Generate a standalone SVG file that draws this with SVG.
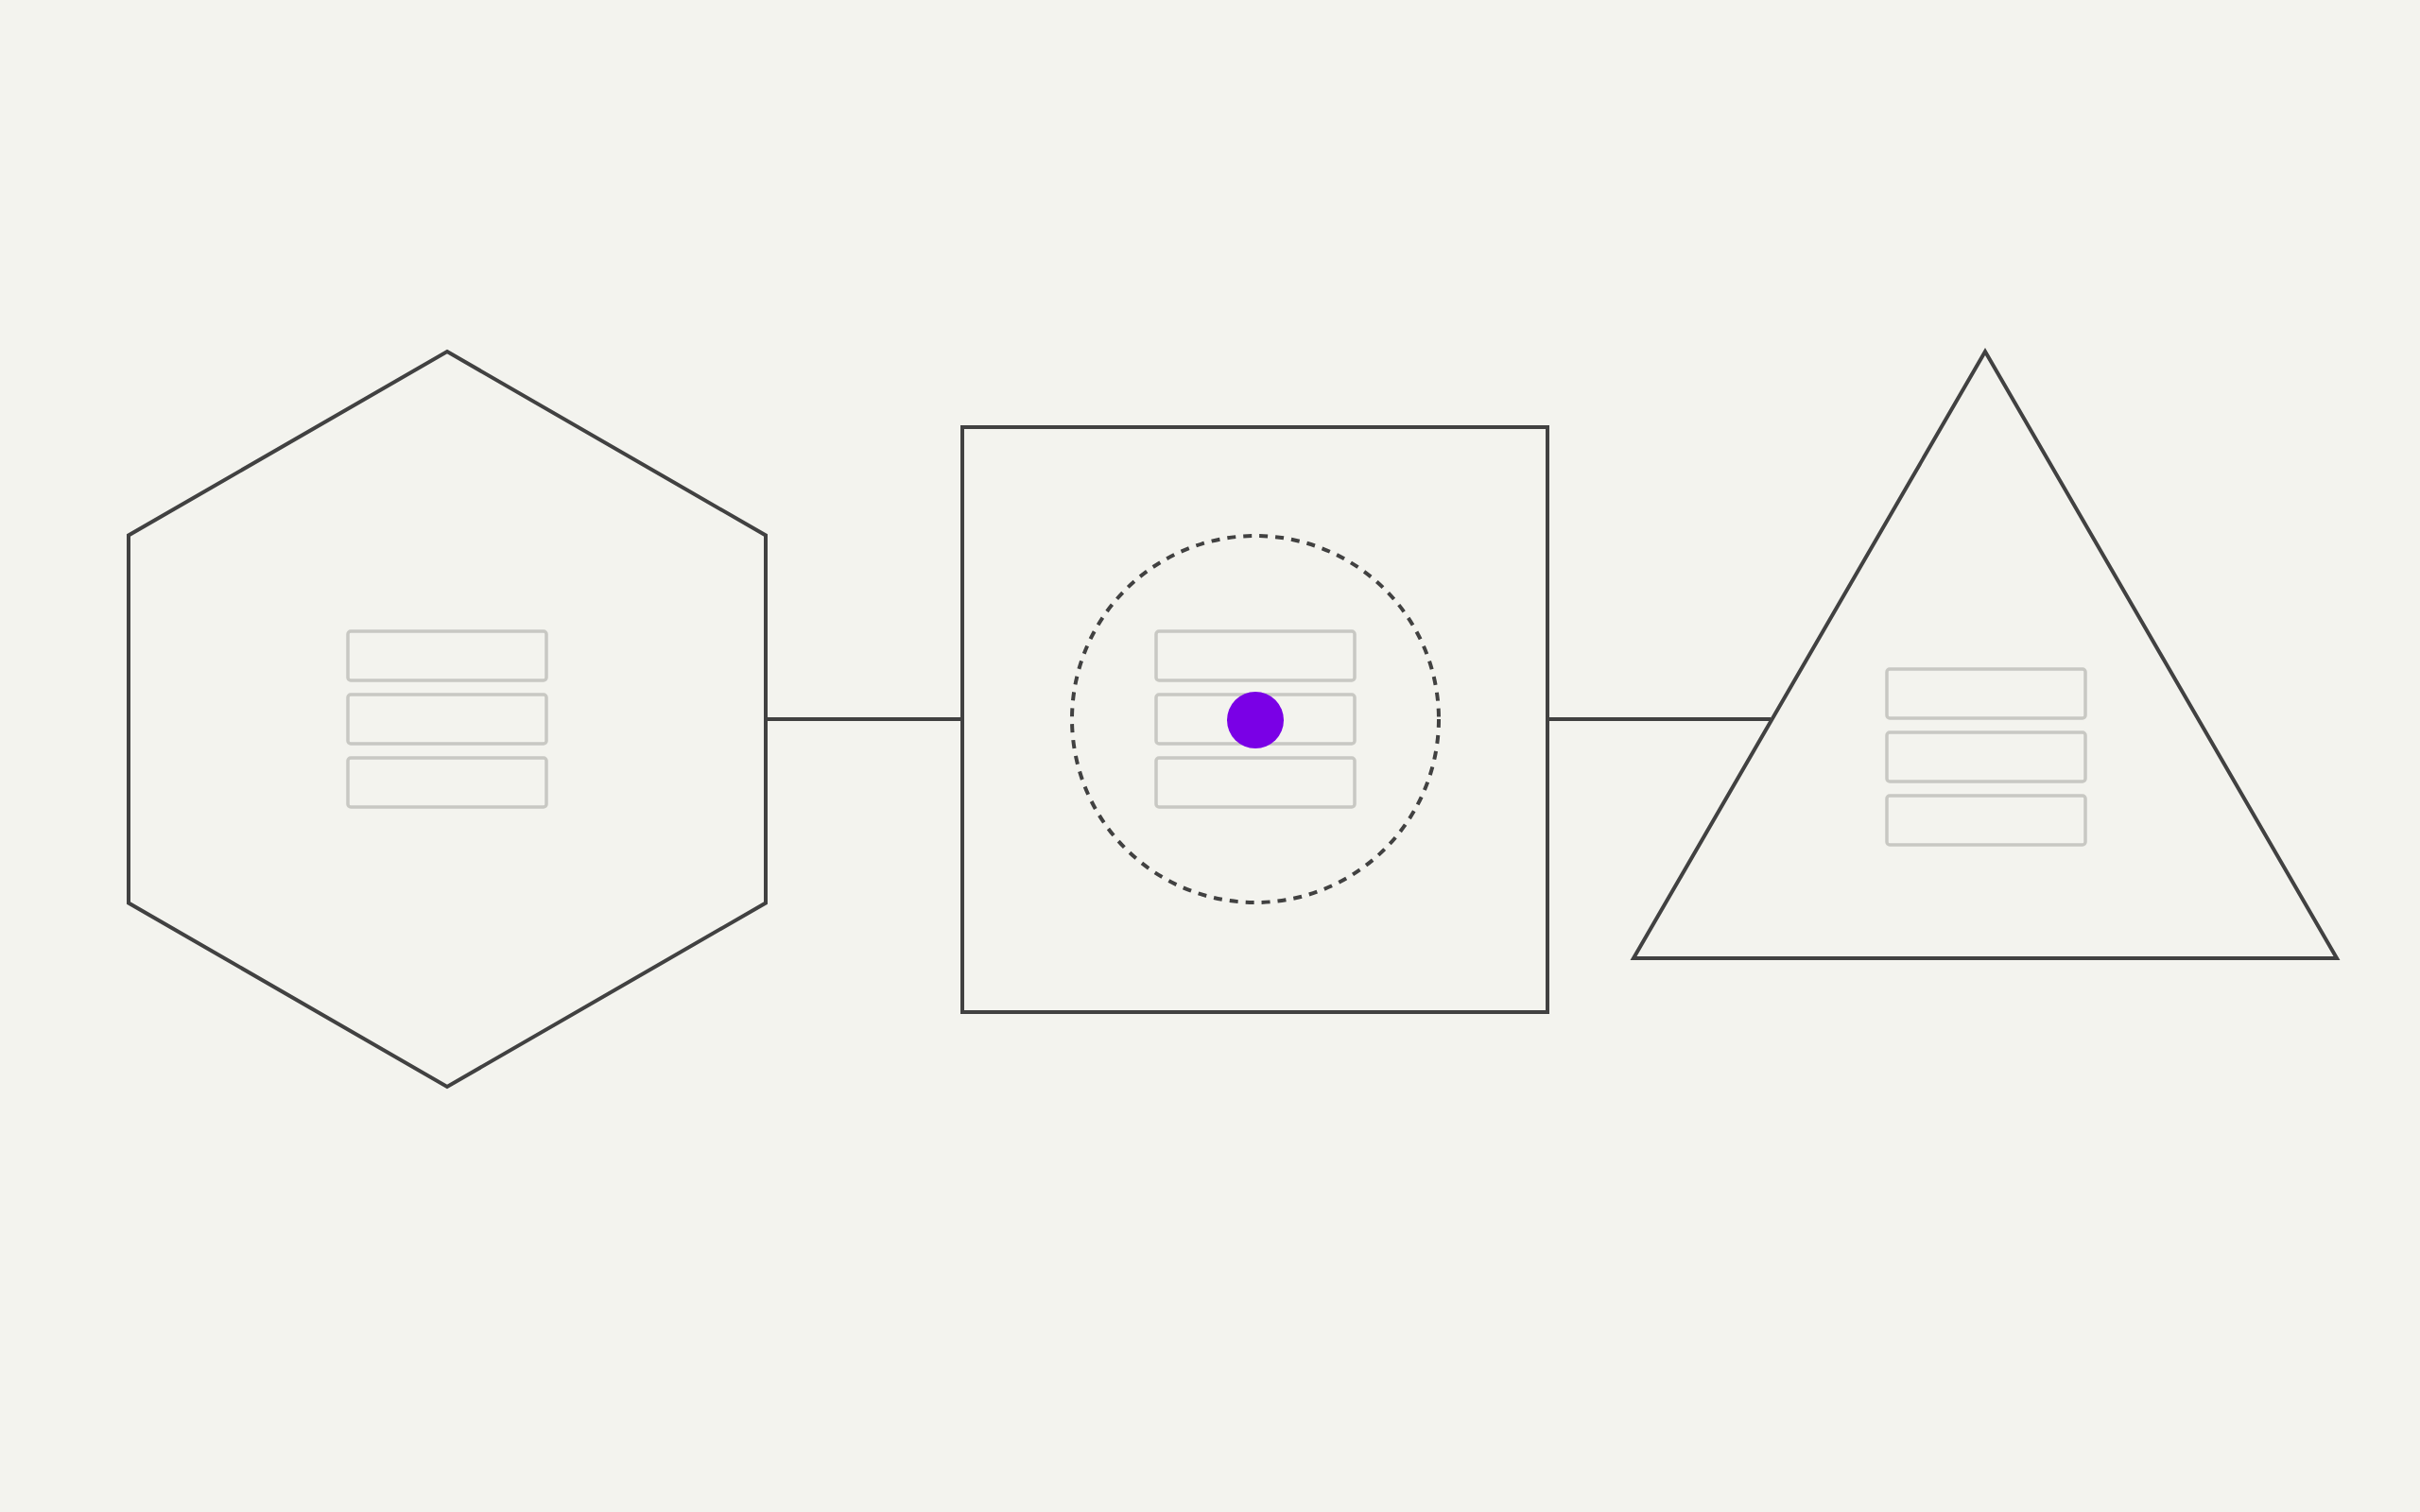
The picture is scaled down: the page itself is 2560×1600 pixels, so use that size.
<svg xmlns="http://www.w3.org/2000/svg" width="2560" height="1600" viewBox="0 0 2560 1600">
<style>
.shape{fill:none;stroke:#414141;stroke-width:4;stroke-linejoin:miter}
.slot{fill:none;stroke:#c8c8c3;stroke-width:3.5;}
.conn{stroke:#414141;stroke-width:4;fill:none}
.ring{fill:none;stroke:#414141;stroke-width:4;stroke-dasharray:9 8}
</style>
<rect width="2560" height="1600" fill="#f3f3ee"/>
<g id="connectors">
<line class="conn" x1="811" y1="761" x2="1018" y2="761"/>
<line class="conn" x1="1638" y1="761" x2="1873" y2="761"/>
</g>
<g id="hexagon">
<polygon class="shape" points="473,372 810,566.5 810,955.5 473,1150 136,955.5 136,566.5"/>
<rect class="slot" x="368" y="668" width="210" height="52" rx="3"/>
<rect class="slot" x="368" y="735" width="210" height="52" rx="3"/>
<rect class="slot" x="368" y="802" width="210" height="52" rx="3"/>
</g>
<g id="square">
<rect class="shape" x="1018" y="452" width="619" height="619"/>
<circle class="ring" cx="1328" cy="761" r="194"/>
<rect class="slot" x="1223" y="668" width="210" height="52" rx="3"/>
<rect class="slot" x="1223" y="735" width="210" height="52" rx="3"/>
<rect class="slot" x="1223" y="802" width="210" height="52" rx="3"/>
<circle cx="1328" cy="762" r="30" fill="#7a00e6"/>
</g>
<g id="triangle">
<polygon class="shape" points="2100,372 2472,1014 1728,1014"/>
<rect class="slot" x="1996" y="708" width="210" height="52" rx="3"/>
<rect class="slot" x="1996" y="775" width="210" height="52" rx="3"/>
<rect class="slot" x="1996" y="842" width="210" height="52" rx="3"/>
</g>
</svg>
